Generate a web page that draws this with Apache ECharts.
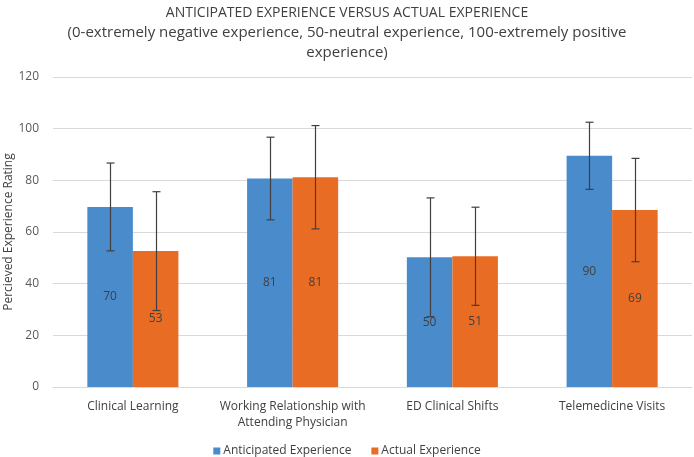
<!DOCTYPE html>
<html><head><meta charset="utf-8">
<script src="https://cdn.jsdelivr.net/npm/echarts@6/dist/echarts.min.js"></script>
<style>html,body{margin:0;padding:0;background:#fff}#c{width:694px;height:457px}</style>
</head><body><div id="c"></div>
<script>
const categories = ['Clinical Learning', 'Working Relationship with\nAttending Physician', 'ED Clinical Shifts', 'Telemedicine Visits'];
const seriesNames = ['Anticipated Experience', 'Actual Experience'];
const anticipated = [69.7, 80.7, 50.2, 89.5];
const actual = [52.6, 81.2, 50.6, 68.5];
const anticipatedErr = [17, 16, 23, 13];
const actualErr = [23, 20, 19, 20];
const yTicks = [0, 20, 40, 60, 80, 100, 120];

const FONT = '"Open Sans", "Liberation Sans", sans-serif';
const colors = ['#4a8bcc', '#e96c24'];
const catGap = 0.43;

function errSeries(vals, errs, idx) {
  return {
    type: 'custom',
    name: seriesNames[idx] + ' err',
    z: 10,
    data: vals.map((v, i) => [i, v, errs[i]]),
    renderItem: function (params, api) {
      const i = api.value(0), v = api.value(1), e = api.value(2);
      const band = api.size([1, 0])[0];
      const bw = band * (1 - catGap) / 2;
      const off = (idx === 0 ? -1 : 1) * bw / 2;
      const c = api.coord([i, v]);
      const top = api.coord([i, v + e])[1];
      const bot = api.coord([i, v - e])[1];
      const x = Math.round(c[0] + off) + 0.5;
      const cap = 4;
      const st = { stroke: '#404040', lineWidth: 1.2 };
      return {
        type: 'group',
        children: [
          { type: 'line', shape: { x1: x, y1: top, x2: x, y2: bot }, style: st },
          { type: 'line', shape: { x1: x - cap, y1: top, x2: x + cap, y2: top }, style: st },
          { type: 'line', shape: { x1: x - cap, y1: bot, x2: x + cap, y2: bot }, style: st }
        ]
      };
    },
    tooltip: { show: false }
  };
}

const chart = echarts.init(document.getElementById('c'));
chart.setOption({
  animation: false,
  textStyle: { fontFamily: FONT },
  title: {
    text: '{a|ANTICIPATED EXPERIENCE VERSUS ACTUAL EXPERIENCE}\n{b|(0-extremely negative experience, 50-neutral experience, 100-extremely positive}\n{b|experience)}',
    left: 'center',
    top: -2,
    textStyle: {
      fontFamily: FONT, fontSize: 14, fontWeight: 'normal', color: '#404040', lineHeight: 19.5,
      align: 'center',
      rich: {
        a: { fontFamily: FONT, fontSize: 14, color: '#404040', lineHeight: 19.5 },
        b: { fontFamily: FONT, fontSize: 15, color: '#404040', lineHeight: 20 }
      }
    }
  },
  legend: {
    data: seriesNames,
    top: 440,
    left: 'center',
    itemWidth: 7,
    itemHeight: 7,
    itemGap: 20,
    icon: 'rect',
    textStyle: { fontFamily: FONT, fontSize: 12, color: '#404040', padding: [0, 0, 0, -2] }
  },
  grid: { left: 53, right: 2, top: 77, bottom: 70, outerBoundsMode: 'none', containLabel: false },
  xAxis: {
    type: 'category',
    data: categories,
    axisLine: { lineStyle: { color: '#d9d9d9', width: 1 } },
    axisTick: { show: false },
    axisLabel: { fontFamily: FONT, fontSize: 12, color: '#404040', margin: 12, lineHeight: 16, interval: 0 }
  },
  yAxis: {
    type: 'value',
    min: yTicks[0],
    max: yTicks[yTicks.length - 1],
    interval: 20,
    name: 'Percieved Experience Rating',
    nameLocation: 'middle',
    nameGap: 38,
    nameMoveOverlap: false,
    nameTextStyle: { fontFamily: FONT, fontSize: 12, color: '#404040' },
    axisLine: { show: false },
    axisTick: { show: false },
    axisLabel: { fontFamily: FONT, fontSize: 12, color: '#595959', margin: 14 },
    splitLine: { lineStyle: { color: '#d9d9d9', width: 1 } }
  },
  series: [
    {
      type: 'bar', name: seriesNames[0], data: anticipated,
      itemStyle: { color: colors[0] },
      barGap: '0%', barCategoryGap: (catGap * 100) + '%',
      label: { show: true, position: 'inside', color: '#404040', fontSize: 12, fontFamily: FONT,
        formatter: p => Math.round(p.value) }
    },
    {
      type: 'bar', name: seriesNames[1], data: actual,
      itemStyle: { color: colors[1] },
      barGap: '0%', barCategoryGap: (catGap * 100) + '%',
      label: { show: true, position: 'inside', color: '#404040', fontSize: 12, fontFamily: FONT,
        formatter: p => Math.round(p.value) }
    },
    errSeries(anticipated, anticipatedErr, 0),
    errSeries(actual, actualErr, 1)
  ]
});
</script></body></html>
